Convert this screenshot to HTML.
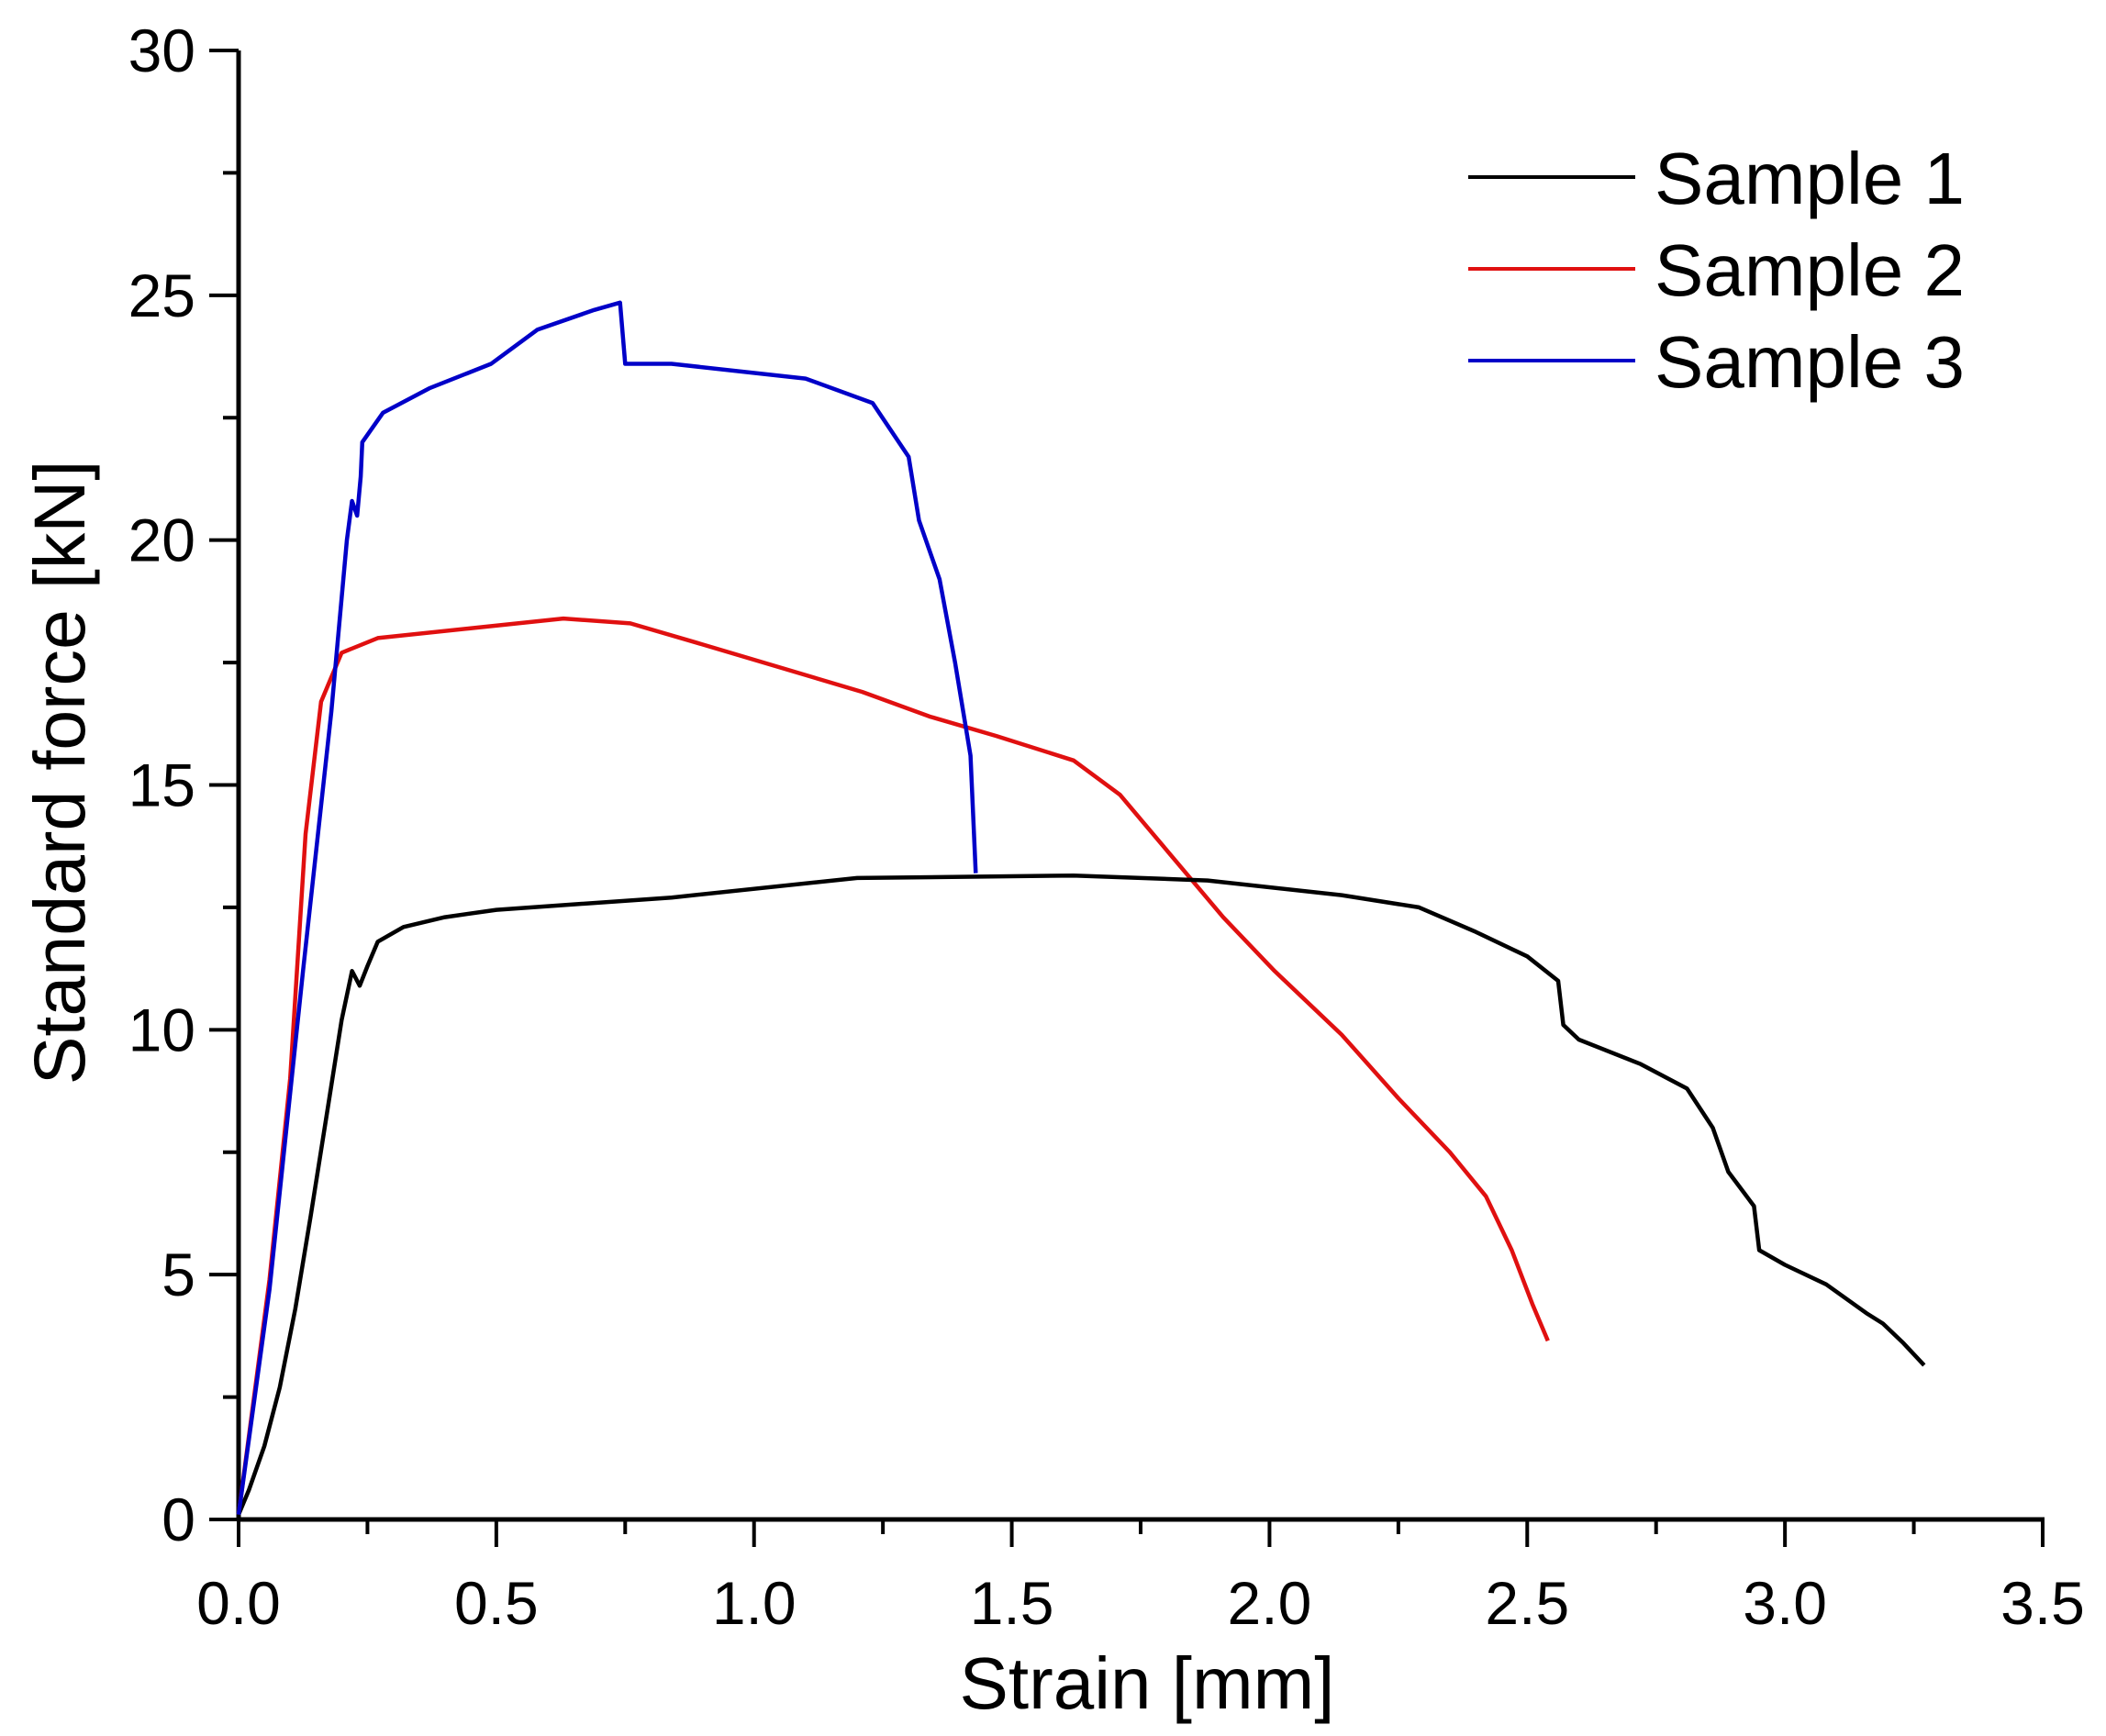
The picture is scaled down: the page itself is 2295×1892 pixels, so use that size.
<!DOCTYPE html>
<html><head><meta charset="utf-8"><style>
html,body{margin:0;padding:0;background:#fff;}
svg{display:block;font-family:"Liberation Sans",Arial,sans-serif;}
</style></head><body>
<svg id="chart" width="2295" height="1892" viewBox="0 0 2295 1892" xmlns="http://www.w3.org/2000/svg">
<rect width="2295" height="1892" fill="#fff"/>
<g id="axes"></g>
<g id="series"></g>
<text x="1250" y="1862" font-size="80" text-anchor="middle">Strain [mm]</text>
<text transform="translate(92,842) rotate(-90)" font-size="79" text-anchor="middle">Standard force [kN]</text>
<g>
<line x1="1600" y1="193" x2="1782" y2="193" stroke="#000" stroke-width="4"/>
<text x="1803" y="222" font-size="80">Sample 1</text>
<line x1="1600" y1="293" x2="1782" y2="293" stroke="#e01010" stroke-width="4"/>
<text x="1803" y="322" font-size="80">Sample 2</text>
<line x1="1600" y1="393" x2="1782" y2="393" stroke="#0000c8" stroke-width="4"/>
<text x="1803" y="422" font-size="80">Sample 3</text>
</g>
</svg>
<script>
const xTicks = [0, 0.5, 1.0, 1.5, 2.0, 2.5, 3.0, 3.5];
const xTickLabels = ["0.0","0.5","1.0","1.5","2.0","2.5","3.0","3.5"];
const yTicks = [0, 5, 10, 15, 20, 25, 30];
const yTickLabels = ["0","5","10","15","20","25","30"];
const s1x = [0,0.02,0.05,0.08,0.11,0.14,0.17,0.2,0.22,0.235,0.25,0.27,0.32,0.4,0.5,0.84,1.2,1.62,1.88,2.14,2.29,2.4,2.5,2.56,2.57,2.6,2.72,2.81,2.86,2.89,2.94,2.95,3.0,3.08,3.16,3.19,3.23,3.27];
const s1y = [0.1,0.6,1.5,2.7,4.3,6.2,8.2,10.2,11.2,10.9,11.3,11.8,12.1,12.3,12.45,12.7,13.1,13.15,13.05,12.75,12.5,12.0,11.5,11.0,10.1,9.8,9.3,8.8,8.0,7.1,6.4,5.5,5.2,4.8,4.2,4.0,3.6,3.15];
const s2x = [0,0.06,0.1,0.13,0.16,0.2,0.27,0.45,0.63,0.76,0.89,1.05,1.21,1.34,1.47,1.62,1.71,1.75,1.83,1.91,2.01,2.14,2.25,2.35,2.42,2.47,2.51,2.54];
const s2y = [0.1,4.9,9,14,16.7,17.7,18.0,18.2,18.4,18.3,17.9,17.4,16.9,16.4,16.0,15.5,14.8,14.3,13.3,12.3,11.2,9.9,8.6,7.5,6.6,5.5,4.4,3.65];
const s3x = [0,0.06,0.125,0.18,0.21,0.22,0.23,0.237,0.24,0.28,0.37,0.49,0.58,0.69,0.74,0.75,0.84,1.1,1.23,1.3,1.32,1.36,1.39,1.42,1.43];
const s3y = [0.1,4.7,11.2,16.5,20,20.8,20.5,21.3,22,22.6,23.1,23.6,24.3,24.7,24.85,23.6,23.6,23.3,22.8,21.7,20.4,19.2,17.5,15.6,13.2];

const X0=260, X1=2226, Y0=1656, Y1=55;
function sx(v){return X0+(v/3.5)*(X1-X0);}
function sy(v){return Y0-(v/30)*(Y0-Y1);}
const NS="http://www.w3.org/2000/svg";
const axes=document.getElementById('axes');
function mk(tag,attrs,parent){const e=document.createElementNS(NS,tag);for(const k in attrs)e.setAttribute(k,attrs[k]);parent.appendChild(e);return e;}
let l=mk('line',{x1:X0,y1:Y1,x2:X0,y2:Y0+2,stroke:'#000','stroke-width':5},axes);


l=mk('line',{x1:X0-2,y1:Y0,x2:X1+2,y2:Y0,stroke:'#000','stroke-width':5},axes);


for(let i=0;i<xTicks.length;i++){
  const x=sx(xTicks[i]);
  const t=mk('line',{x1:x,y1:Y0,x2:x,y2:Y0+30,stroke:'#000','stroke-width':4},axes);
  
  
  const tx=mk('text',{x:x,y:1770,'font-size':66,'text-anchor':'middle'},axes);
  tx.textContent=xTickLabels[i];
  
  
  if(i<xTicks.length-1){
    const xm=sx((xTicks[i]+xTicks[i+1])/2);
    const m=mk('line',{x1:xm,y1:Y0,x2:xm,y2:Y0+16,stroke:'#000','stroke-width':4},axes);
    
    
  }
}
for(let i=0;i<yTicks.length;i++){
  const y=sy(yTicks[i]);
  const t=mk('line',{x1:X0-32,y1:y,x2:X0,y2:y,stroke:'#000','stroke-width':4},axes);
  
  
  const tx=mk('text',{x:213,y:y+23,'font-size':66,'text-anchor':'end'},axes);
  tx.textContent=yTickLabels[i];
  
  
  if(i<yTicks.length-1){
    const ym=sy((yTicks[i]+yTicks[i+1])/2);
    const m=mk('line',{x1:X0-17,y1:ym,x2:X0,y2:ym,stroke:'#000','stroke-width':4},axes);
    
    
  }
}
const sg=document.getElementById('series');
function draw(xs,ys,color,name){
  let d='';
  for(let i=0;i<xs.length;i++)d+=(i?'L':'M')+sx(xs[i]).toFixed(1)+' '+sy(ys[i]).toFixed(1);
  const p=mk('path',{d:d,fill:'none',stroke:color,'stroke-width':4.5,'stroke-linejoin':'round'},sg);
  
  
}
draw(s2x,s2y,'#e01010','sample-2-line');
draw(s1x,s1y,'#000','sample-1-line');
draw(s3x,s3y,'#0000c8','sample-3-line');
</script>
</body></html>
